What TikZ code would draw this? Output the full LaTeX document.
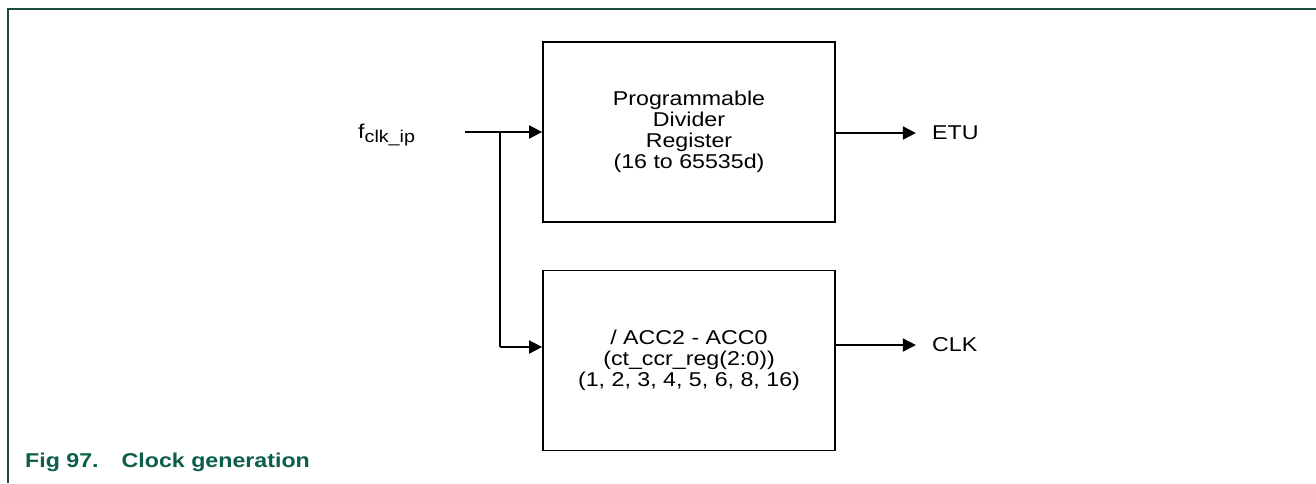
\documentclass[tikz,border=0pt]{standalone}
\usepackage{fontspec}
\setmainfont[FakeStretch=1.16]{Liberation Sans}
\usetikzlibrary{arrows.meta}
\definecolor{framegreen}{HTML}{1B4D3E}
\definecolor{capgreen}{HTML}{0A5E4A}
\tikzset{
  blk/.style={draw, line width=1.8pt, minimum width=292pt, minimum height=180pt, align=center, inner sep=0pt, font=\fontsize{20}{21}\selectfont},
  lbl/.style={font=\fontsize{20}{21}\selectfont, inner sep=0pt},
  wire/.style={line width=1.8pt},
  arr/.style={wire, -{Triangle[length=13pt,width=13pt]}},
}
\begin{document}
\begin{tikzpicture}[x=1pt,y=-1pt]
\useasboundingbox (0,0) rectangle (1316,483);
% frame
\draw[framegreen, line width=1.6pt] (8,483) -- (8,9) -- (1316,9);
% blocks
\node[blk] (pdr) at (689,132) {Programmable\\Divider\\Register\\(16 to 65535d)};
\node[blk] (acc) at (689,360.5) {/ ACC2 - ACC0\\(ct\_ccr\_reg(2:0))\\(1, 2, 3, 4, 5, 6, 8, 16)};
% input
\node[lbl, anchor=base west] (fin) at (358,138) {f\raisebox{-4pt}{\fontsize{17}{17}\selectfont clk\_ip}};
\coordinate (instart) at (465,132);
\coordinate (split) at (500,132);
\coordinate (bend) at (500,347);
\draw[arr] (instart) -- (pdr.west |- instart);
\draw[wire] (split) -- (bend);
\draw[arr] (bend) -- (acc.west |- bend);
% outputs
\node[lbl, anchor=west] (etu) at (932,133) {ETU};
\node[lbl, anchor=west] (clk) at (932,345) {CLK};
\draw[arr] (pdr.east |- etu.west) -- ++(80,0);
\draw[arr] (acc.east |- clk.west) -- ++(80,0);
% caption
\node[anchor=base west, inner sep=0pt, text=capgreen, font=\fontsize{20}{21}\selectfont\bfseries] (cap) at (25,467) {Fig 97.\hspace{23pt}Clock generation};
\end{tikzpicture}
\end{document}
